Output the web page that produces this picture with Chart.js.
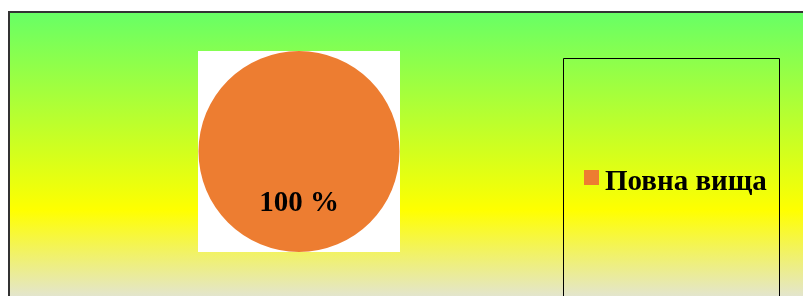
<!DOCTYPE html>
<html>
<head>
<meta charset="utf-8">
<script src="https://cdn.jsdelivr.net/npm/chart.js@4"></script>
<style>
  html, body { margin: 0; padding: 0; background: #fff; }
  #wrap { width: 803px; height: 296px; position: relative; }
</style>
</head>
<body>
<div id="wrap"><canvas id="pieChart" width="803" height="296"></canvas></div>
<script>
// --- Chart data ---
const categories = ['Повна вища'];
const shares = [100];
const sliceColors = ['#ED7D31'];

const FONT = '"Liberation Serif", "Times New Roman", serif';

// background, frame and white plot square
const backdrop = {
    id: 'backdrop',
    beforeDraw(chart) {
        const ctx = chart.ctx;
        ctx.save();
        ctx.fillStyle = '#ffffff';
        ctx.fillRect(0, 0, chart.width, chart.height);
        const g = ctx.createLinearGradient(0, 11, 0, 300);
        g.addColorStop(0, '#66FF66');
        g.addColorStop(0.69, '#FFFF00');
        g.addColorStop(1, '#E2E4D6');
        ctx.fillStyle = g;
        ctx.fillRect(9, 12, chart.width, chart.height);
        ctx.strokeStyle = '#333333';
        ctx.lineWidth = 2;
        ctx.beginPath();
        ctx.moveTo(9, chart.height + 2);
        ctx.lineTo(9, 12);
        ctx.lineTo(chart.width + 2, 12);
        ctx.stroke();
        // white square behind the pie
        const a = chart.chartArea;
        ctx.fillStyle = '#ffffff';
        ctx.fillRect(a.left, a.top, a.right - a.left, a.bottom - a.top);
        ctx.restore();
    }
};

// percent label + legend box
const labelsAndLegend = {
    id: 'labelsAndLegend',
    afterDatasetsDraw(chart) {
        const ctx = chart.ctx;
        const meta = chart.getDatasetMeta(0);
        ctx.save();
        ctx.fillStyle = '#000';
        ctx.font = 'bold 29px ' + FONT;
        ctx.textAlign = 'center';
        ctx.textBaseline = 'middle';
        meta.data.forEach((arc, i) => {
            const p = arc.tooltipPosition();
            ctx.fillText(shares[i] + ' %', p.x, p.y + 2);
        });

        // legend frame
        ctx.strokeStyle = '#000';
        ctx.lineWidth = 1;
        ctx.beginPath();
        ctx.moveTo(563.5, chart.height + 2);
        ctx.lineTo(563.5, 58.5);
        ctx.lineTo(779.5, 58.5);
        ctx.lineTo(779.5, chart.height + 2);
        ctx.stroke();

        ctx.textAlign = 'left';
        ctx.textBaseline = 'alphabetic';
        categories.forEach((c, i) => {
            ctx.fillStyle = sliceColors[i];
            ctx.fillRect(584, 170, 15, 15);
            ctx.fillStyle = '#000';
            ctx.fillText(c, 605, 190);
        });
        ctx.restore();
    }
};

new Chart(document.getElementById('pieChart'), {
    type: 'pie',
    data: {
        labels: categories,
        datasets: [{
            data: shares,
            backgroundColor: sliceColors,
            borderWidth: 0
        }]
    },
    options: {
        responsive: false,
        animation: false,
        layout: { padding: { left: 198, right: 403, top: 51, bottom: 44 } },
        plugins: {
            legend: { display: false },
            tooltip: { enabled: false }
        }
    },
    plugins: [backdrop, labelsAndLegend]
});
</script>
</body>
</html>
